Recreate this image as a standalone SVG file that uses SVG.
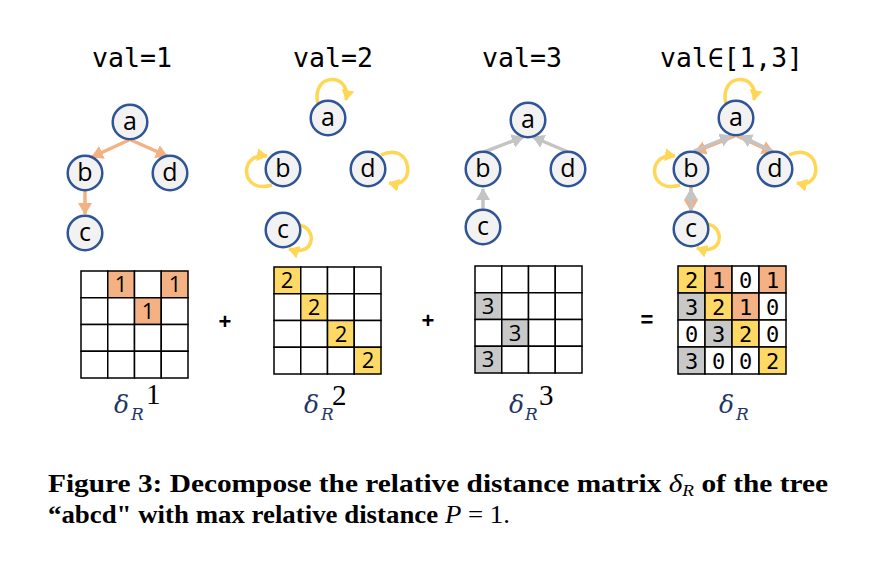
<svg xmlns="http://www.w3.org/2000/svg" width="871" height="564" viewBox="0 0 871 564">
<style>
.node circle{fill:#F2F2F2;stroke:#2F5597;stroke-width:2.5}
.node text{font-family:"Open Sans","Noto Sans",sans-serif;font-size:25px;fill:#000;text-anchor:middle}
.title{font-family:"DejaVu Sans Mono","Liberation Mono",monospace;font-size:26px;fill:#000}
.eo{stroke:#F4B183;stroke-width:3.5;fill:none;marker-end:url(#ao)}
.eg{stroke:#C4C4C4;stroke-width:3.5;fill:none;marker-end:url(#ag)}
.loop{stroke:#FFD757;stroke-width:3.5;fill:none;marker-end:url(#ay)}
.cell{fill:#fff;stroke:#000;stroke-width:1.5}
.o{fill:#F4B183}.y{fill:#FFD966}.g{fill:#C8C8C8}
.num{font-family:"Open Sans","Noto Sans",sans-serif;font-size:22px;fill:#000;text-anchor:middle}
.mono{font-family:"DejaVu Sans Mono","Liberation Mono",monospace;font-size:22px;fill:#000;text-anchor:middle}
.op{font-family:"Liberation Sans",Arial,sans-serif;font-size:22px;font-weight:bold;fill:#000;text-anchor:middle}
.dl{font-family:"DejaVu Serif","Liberation Serif",serif;font-style:italic;fill:#1F3864}
.sup{font-family:"Liberation Serif","DejaVu Serif",serif;font-size:29px;fill:#000}
.cap{font-family:"Liberation Serif","Times New Roman",serif;font-size:26px;font-weight:bold;fill:#000}
</style>
<defs>
<marker id="ao" viewBox="0 0 12 14" markerWidth="12" markerHeight="14" refX="11" refY="7" orient="auto" markerUnits="userSpaceOnUse"><path d="M0,0 L12,7 L0,14 z" fill="#F4B183"/></marker>
<marker id="ag" viewBox="0 0 12 14" markerWidth="12" markerHeight="14" refX="11" refY="7" orient="auto" markerUnits="userSpaceOnUse"><path d="M0,0 L12,7 L0,14 z" fill="#C4C4C4"/></marker>
<marker id="ay" viewBox="0 0 11 13" markerWidth="11" markerHeight="13" refX="10" refY="6.5" orient="auto" markerUnits="userSpaceOnUse"><path d="M0,0 L11,6.5 L0,13 z" fill="#FFD757"/></marker>
</defs>

<!-- titles -->
<text class="title" x="92" y="67" textLength="80" lengthAdjust="spacingAndGlyphs">val=1</text>
<text class="title" x="293" y="67" textLength="80" lengthAdjust="spacingAndGlyphs">val=2</text>
<text class="title" x="482" y="67" textLength="80" lengthAdjust="spacingAndGlyphs">val=3</text>
<text class="title" x="660" y="67" textLength="143" lengthAdjust="spacingAndGlyphs">val∈[1,3]</text>

<!-- connectors -->
<g id="connectors">
<path class="eo" d="M129,140 L92,157"/>
<path class="eo" d="M131,140 L167,156"/>
<path class="eo" d="M85,191 L85,214"/>

<path class="loop" d="M318,104 C310,72 352,72 346,100"/>
<path class="loop" d="M272,185 C240,195 238,152 267,156"/>
<path class="loop" d="M381,155 C412,140 418,190 389,183"/>
<path class="loop" d="M299,225 C318,228 315,258 289,249"/>

<path class="eg" d="M484,152 L523,137"/>
<path class="eg" d="M568,152 L533,137"/>
<path class="eg" d="M483,210 L483,189"/>

<path class="eo" d="M735,136 L695,152"/>
<path class="eo" d="M737,136 L773,152"/>
<path class="eo" d="M691,187 L691,211"/>
<path class="eg" d="M694,151 L731,136"/>
<path class="eg" d="M772,151 L741,136"/>
<path class="eg" d="M691,210 L691,189"/>
<path class="loop" d="M726,104 C718,72 760,72 754,100"/>
<path class="loop" d="M680,185 C648,195 646,152 675,156"/>
<path class="loop" d="M789,155 C820,140 826,190 797,183"/>
<path class="loop" d="M707,224 C726,227 723,257 697,248"/>
</g>

<!-- nodes panel 1 -->
<g id="p1-a" class="node"><circle cx="130" cy="122" r="17.3"/><text x="130" y="130">a</text></g>
<g id="p1-b" class="node"><circle cx="85" cy="173" r="17.3"/><text x="85" y="181">b</text></g>
<g id="p1-d" class="node"><circle cx="170" cy="173" r="17.3"/><text x="170" y="181">d</text></g>
<g id="p1-c" class="node"><circle cx="85" cy="233" r="17.3"/><text x="85" y="241">c</text></g>
<!-- panel 2 -->
<g id="p2-a" class="node"><circle cx="328" cy="118" r="17.3"/><text x="328" y="126">a</text></g>
<g id="p2-b" class="node"><circle cx="283" cy="169" r="17.3"/><text x="283" y="177">b</text></g>
<g id="p2-d" class="node"><circle cx="368" cy="169" r="17.3"/><text x="368" y="177">d</text></g>
<g id="p2-c" class="node"><circle cx="283" cy="230" r="17.3"/><text x="283" y="238">c</text></g>
<!-- panel 3 -->
<g id="p3-a" class="node"><circle cx="528" cy="120" r="17.3"/><text x="528" y="128">a</text></g>
<g id="p3-b" class="node"><circle cx="483" cy="169" r="17.3"/><text x="483" y="177">b</text></g>
<g id="p3-d" class="node"><circle cx="568" cy="169" r="17.3"/><text x="568" y="177">d</text></g>
<g id="p3-c" class="node"><circle cx="483" cy="227" r="17.3"/><text x="483" y="235">c</text></g>
<!-- panel 4 -->
<g id="p4-a" class="node"><circle cx="736" cy="118" r="17.3"/><text x="736" y="126">a</text></g>
<g id="p4-b" class="node"><circle cx="691" cy="169" r="17.3"/><text x="691" y="177">b</text></g>
<g id="p4-d" class="node"><circle cx="775" cy="169" r="17.3"/><text x="775" y="177">d</text></g>
<g id="p4-c" class="node"><circle cx="691" cy="229" r="17.3"/><text x="691" y="237">c</text></g>

<!-- matrix 1 -->
<g id="m1">
<rect class="cell" x="81" y="271" width="26.75" height="26.75"/><rect class="cell o" x="107.75" y="271" width="26.75" height="26.75"/><rect class="cell" x="134.5" y="271" width="26.75" height="26.75"/><rect class="cell o" x="161.25" y="271" width="26.75" height="26.75"/>
<rect class="cell" x="81" y="297.75" width="26.75" height="26.75"/><rect class="cell" x="107.75" y="297.75" width="26.75" height="26.75"/><rect class="cell o" x="134.5" y="297.75" width="26.75" height="26.75"/><rect class="cell" x="161.25" y="297.75" width="26.75" height="26.75"/>
<rect class="cell" x="81" y="324.5" width="26.75" height="26.75"/><rect class="cell" x="107.75" y="324.5" width="26.75" height="26.75"/><rect class="cell" x="134.5" y="324.5" width="26.75" height="26.75"/><rect class="cell" x="161.25" y="324.5" width="26.75" height="26.75"/>
<rect class="cell" x="81" y="351.25" width="26.75" height="26.75"/><rect class="cell" x="107.75" y="351.25" width="26.75" height="26.75"/><rect class="cell" x="134.5" y="351.25" width="26.75" height="26.75"/><rect class="cell" x="161.25" y="351.25" width="26.75" height="26.75"/>
<text class="num" x="121" y="292">1</text><text class="num" x="175" y="292">1</text><text class="num" x="148" y="319">1</text>
</g>
<text class="op" x="225" y="329">+</text>

<!-- matrix 2 -->
<g id="m2">
<rect class="cell y" x="274" y="267" width="26.75" height="26.75"/><rect class="cell" x="300.75" y="267" width="26.75" height="26.75"/><rect class="cell" x="327.5" y="267" width="26.75" height="26.75"/><rect class="cell" x="354.25" y="267" width="26.75" height="26.75"/>
<rect class="cell" x="274" y="293.75" width="26.75" height="26.75"/><rect class="cell y" x="300.75" y="293.75" width="26.75" height="26.75"/><rect class="cell" x="327.5" y="293.75" width="26.75" height="26.75"/><rect class="cell" x="354.25" y="293.75" width="26.75" height="26.75"/>
<rect class="cell" x="274" y="320.5" width="26.75" height="26.75"/><rect class="cell" x="300.75" y="320.5" width="26.75" height="26.75"/><rect class="cell y" x="327.5" y="320.5" width="26.75" height="26.75"/><rect class="cell" x="354.25" y="320.5" width="26.75" height="26.75"/>
<rect class="cell" x="274" y="347.25" width="26.75" height="26.75"/><rect class="cell" x="300.75" y="347.25" width="26.75" height="26.75"/><rect class="cell" x="327.5" y="347.25" width="26.75" height="26.75"/><rect class="cell y" x="354.25" y="347.25" width="26.75" height="26.75"/>
<text class="num" x="287" y="288">2</text><text class="num" x="314" y="315">2</text><text class="num" x="341" y="342">2</text><text class="num" x="368" y="368">2</text>
</g>
<text class="op" x="428" y="328">+</text>

<!-- matrix 3 -->
<g id="m3">
<rect class="cell" x="475" y="266" width="26.75" height="26.75"/><rect class="cell" x="501.75" y="266" width="26.75" height="26.75"/><rect class="cell" x="528.5" y="266" width="26.75" height="26.75"/><rect class="cell" x="555.25" y="266" width="26.75" height="26.75"/>
<rect class="cell g" x="475" y="292.75" width="26.75" height="26.75"/><rect class="cell" x="501.75" y="292.75" width="26.75" height="26.75"/><rect class="cell" x="528.5" y="292.75" width="26.75" height="26.75"/><rect class="cell" x="555.25" y="292.75" width="26.75" height="26.75"/>
<rect class="cell" x="475" y="319.5" width="26.75" height="26.75"/><rect class="cell g" x="501.75" y="319.5" width="26.75" height="26.75"/><rect class="cell" x="528.5" y="319.5" width="26.75" height="26.75"/><rect class="cell" x="555.25" y="319.5" width="26.75" height="26.75"/>
<rect class="cell g" x="475" y="346.25" width="26.75" height="26.75"/><rect class="cell" x="501.75" y="346.25" width="26.75" height="26.75"/><rect class="cell" x="528.5" y="346.25" width="26.75" height="26.75"/><rect class="cell" x="555.25" y="346.25" width="26.75" height="26.75"/>
<text class="num" x="488" y="314">3</text><text class="num" x="515" y="341">3</text><text class="num" x="488" y="367">3</text>
</g>

<text class="op" x="647" y="327">=</text>

<!-- matrix 4 -->
<g id="m4">
<rect class="cell y" x="678" y="266" width="27" height="27"/><rect class="cell o" x="705" y="266" width="27" height="27"/><rect class="cell" x="732" y="266" width="27" height="27"/><rect class="cell o" x="759" y="266" width="27" height="27"/>
<rect class="cell g" x="678" y="293" width="27" height="27"/><rect class="cell y" x="705" y="293" width="27" height="27"/><rect class="cell o" x="732" y="293" width="27" height="27"/><rect class="cell" x="759" y="293" width="27" height="27"/>
<rect class="cell" x="678" y="320" width="27" height="27"/><rect class="cell g" x="705" y="320" width="27" height="27"/><rect class="cell y" x="732" y="320" width="27" height="27"/><rect class="cell" x="759" y="320" width="27" height="27"/>
<rect class="cell g" x="678" y="347" width="27" height="27"/><rect class="cell" x="705" y="347" width="27" height="27"/><rect class="cell" x="732" y="347" width="27" height="27"/><rect class="cell y" x="759" y="347" width="27" height="27"/>
<text class="mono" x="691.5" y="287.5">2</text><text class="mono" x="718.5" y="287.5">1</text><text class="mono" x="745.5" y="287.5">0</text><text class="mono" x="772.5" y="287.5">1</text>
<text class="mono" x="691.5" y="314.5">3</text><text class="mono" x="718.5" y="314.5">2</text><text class="mono" x="745.5" y="314.5">1</text><text class="mono" x="772.5" y="314.5">0</text>
<text class="mono" x="691.5" y="341.5">0</text><text class="mono" x="718.5" y="341.5">3</text><text class="mono" x="745.5" y="341.5">2</text><text class="mono" x="772.5" y="341.5">0</text>
<text class="mono" x="691.5" y="368.5">3</text><text class="mono" x="718.5" y="368.5">0</text><text class="mono" x="745.5" y="368.5">0</text><text class="mono" x="772.5" y="368.5">2</text>
</g>

<!-- matrix labels -->
<text class="dl" x="114" y="413" font-size="25">δ</text><text class="dl" x="131" y="420" font-size="17">R</text><text class="sup" x="146" y="404">1</text>
<text class="dl" x="304" y="413" font-size="25">δ</text><text class="dl" x="321" y="420" font-size="17">R</text><text class="sup" x="332" y="405">2</text>
<text class="dl" x="509" y="413" font-size="25">δ</text><text class="dl" x="525" y="420" font-size="17">R</text><text class="sup" x="539" y="405">3</text>
<text class="dl" x="719" y="413" font-size="25">δ</text><text class="dl" x="736" y="420" font-size="17">R</text>

<!-- caption -->
<text class="cap" x="48" y="492" textLength="780" lengthAdjust="spacingAndGlyphs">Figure 3: Decompose the relative distance matrix <tspan font-style="italic" font-weight="normal">δ</tspan><tspan font-style="italic" font-weight="normal" font-size="17" dy="4">R</tspan><tspan dy="-4"> of the tree</tspan></text>
<text class="cap" x="48" y="523" textLength="462" lengthAdjust="spacingAndGlyphs">“abcd" with max relative distance <tspan font-style="italic" font-weight="normal">P</tspan><tspan font-weight="normal"> = 1.</tspan></text>
</svg>
